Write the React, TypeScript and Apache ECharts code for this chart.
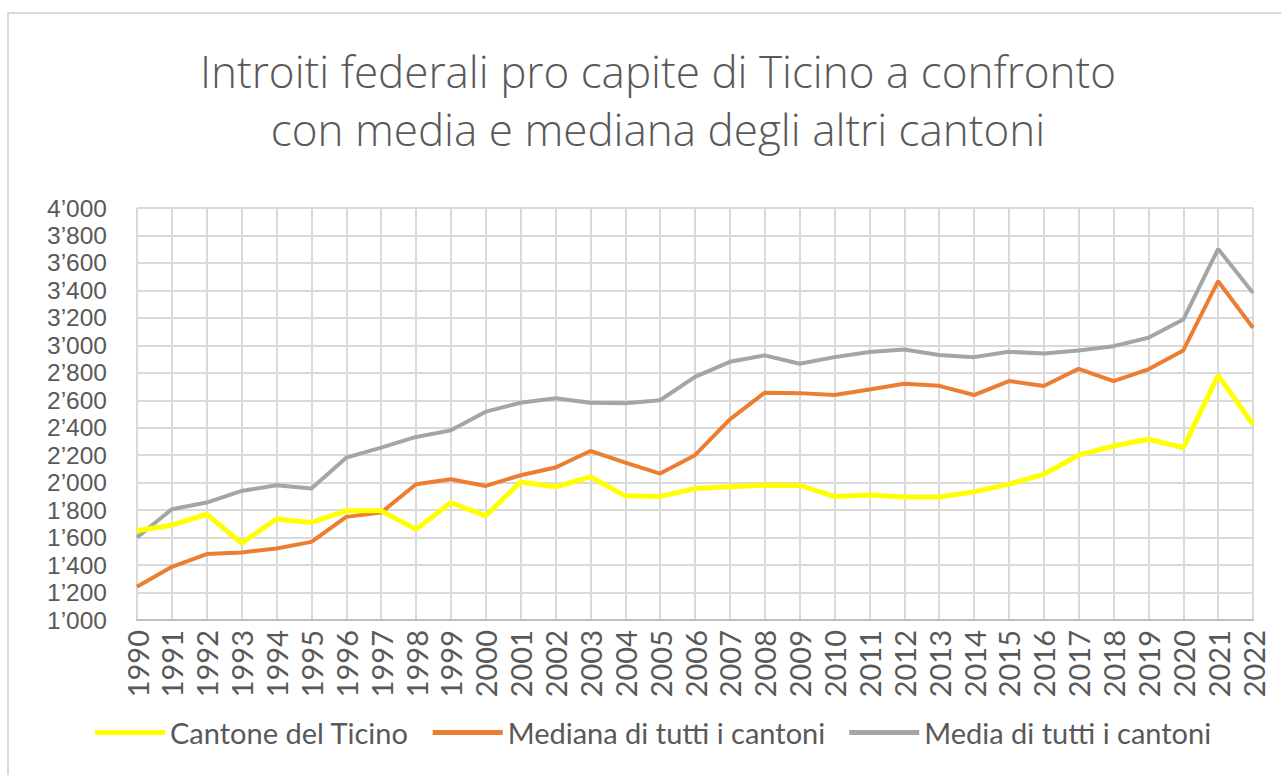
import React, { useEffect, useRef } from "react";
import * as echarts from "echarts";

const years = [
  "1990","1991","1992","1993","1994","1995","1996","1997","1998","1999","2000",
  "2001","2002","2003","2004","2005","2006","2007","2008","2009","2010","2011",
  "2012","2013","2014","2015","2016","2017","2018","2019","2020","2021","2022",
];

const ticino = [
  1650, 1690, 1770, 1560, 1735, 1710, 1795, 1795, 1660, 1855, 1758,
  2005, 1970, 2042, 1904, 1900, 1957, 1970, 1981, 1980, 1900, 1910,
  1896, 1895, 1933, 1989, 2061, 2200, 2267, 2316, 2255, 2781, 2425,
];

const mediana = [
  1242, 1387, 1480, 1492, 1521, 1569, 1751, 1782, 1989, 2025, 1976,
  2054, 2110, 2231, 2146, 2066, 2200, 2461, 2655, 2652, 2638, 2679,
  2720, 2705, 2638, 2740, 2704, 2829, 2740, 2825, 2963, 3467, 3127,
];

const media = [
  1601, 1807, 1855, 1940, 1981, 1957, 2182, 2255, 2333, 2381, 2517,
  2582, 2614, 2582, 2578, 2600, 2770, 2880, 2927, 2866, 2914, 2951,
  2970, 2929, 2914, 2953, 2941, 2963, 2994, 3055, 3188, 3702, 3382,
];

const seriesNames = [
  "Cantone del Ticino",
  "Mediana di tutti i cantoni",
  "Media di tutti i cantoni",
];

const titleText = "Introiti federali pro capite di Ticino a confronto\ncon media e mediana degli altri cantoni";

const fmt = (v: number) => {
  const s = String(Math.round(v));
  return s.length > 3 ? s.slice(0, s.length - 3) + "\u2019" + s.slice(-3) : s;
};

export default function App() {
  const ref = useRef<HTMLDivElement>(null);
  useEffect(() => {
    if (!ref.current) return;
    const chart = echarts.init(ref.current, null, { renderer: "svg" });
    const font = "Lato, 'Open Sans', sans-serif";
    chart.setOption({
      animation: false,
      backgroundColor: "#ffffff",
      textStyle: { fontFamily: font },
      title: {
        text: titleText,
        left: 653,
        textAlign: "center",
        top: 37,
        textStyle: {
          fontFamily: "'Open Sans', sans-serif",
          fontSize: 44,
          fontWeight: 300,
          color: "#595959",
          lineHeight: 58,
        },
      },
      graphic: [
        {
          type: "rect",
          z: -10,
          shape: { x: 8, y: 13, width: 1300, height: 800 },
          style: { fill: "none", stroke: "#d9d9d9", lineWidth: 2 },
        },
      ],
      legend: {
        top: 713,
        left: 90,
        icon: "rect",
        itemWidth: 70,
        itemHeight: 5,
        itemGap: 24,
        textStyle: { fontFamily: font, fontSize: 29, color: "#595959" },
        data: seriesNames,
      },
      grid: { left: 137, right: 28, top: 208, bottom: 155, containLabel: false },
      xAxis: {
        type: "category",
        data: years,
        boundaryGap: false,
        axisLine: { show: true, lineStyle: { color: "#bfbfbf", width: 2 } },
        axisTick: { show: false },
        axisLabel: {
          rotate: 90,
          interval: 0,
          margin: 10,
          fontFamily: font,
          fontSize: 29,
          lineHeight: 30,
          color: "#595959",
        },
        splitLine: { show: true, lineStyle: { color: "#d9d9d9", width: 2 } },
      },
      yAxis: {
        type: "value",
        min: 1000,
        max: 4000,
        interval: 200,
        axisLine: { show: false },
        axisTick: { show: false },
        axisLabel: {
          margin: 30,
          fontFamily: "'Liberation Sans', Arial, sans-serif",
          fontSize: 24.5,
          lineHeight: 25,
          color: "#595959",
          formatter: (v: number) => fmt(v),
        },
        splitLine: { show: true, lineStyle: { color: "#d9d9d9", width: 2 } },
      },
      series: [
        {
          name: seriesNames[0],
          type: "line",
          data: ticino,
          showSymbol: false,
          symbol: "none",
          z: 4,
          itemStyle: { color: "#ffff00" },
          lineStyle: { color: "#ffff00", width: 5 },
        },
        {
          name: seriesNames[1],
          type: "line",
          data: mediana,
          showSymbol: false,
          symbol: "none",
          z: 3,
          itemStyle: { color: "#ed7d31" },
          lineStyle: { color: "#ed7d31", width: 4 },
        },
        {
          name: seriesNames[2],
          type: "line",
          data: media,
          showSymbol: false,
          symbol: "none",
          z: 2,
          itemStyle: { color: "#a5a5a5" },
          lineStyle: { color: "#a5a5a5", width: 4 },
        },
      ],
    });
    return () => chart.dispose();
  }, []);
  return (
    <div
      ref={ref}
      style={{ position: "fixed", left: 0, top: 0, width: 1281, height: 775 }}
    />
  );
}
